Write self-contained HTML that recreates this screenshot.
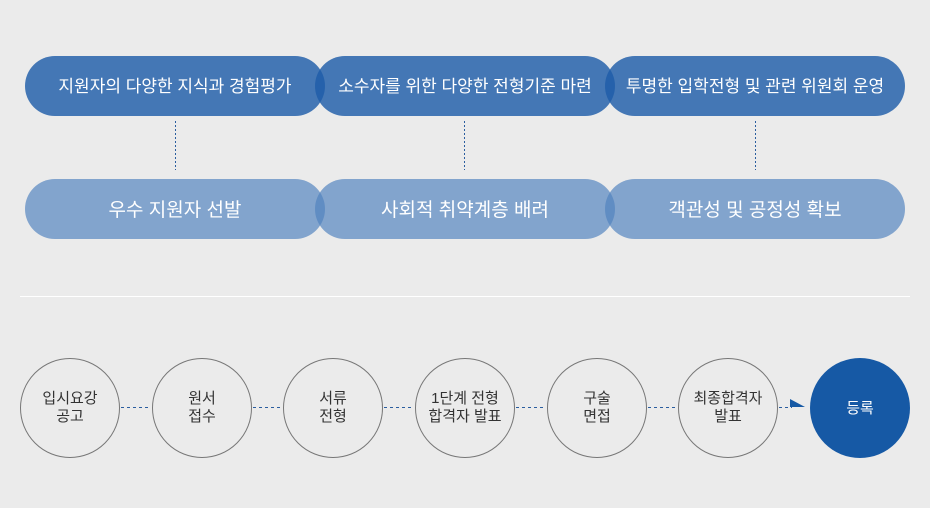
<!DOCTYPE html>
<html><head><meta charset="utf-8"><style>
body{margin:0;background:#ebebeb;}
svg{display:block;font-family:"Liberation Sans","Noto Sans CJK KR",sans-serif;}
</style></head><body>
<svg width="930" height="508" viewBox="0 0 930 508">
<rect width="930" height="508" fill="#ebebeb"/>
<g fill="rgb(31,93,168)" fill-opacity="0.82">
<rect x="25" y="56" width="300" height="60" rx="30"/>
<rect x="315" y="56" width="300" height="60" rx="30"/>
<rect x="605" y="56" width="300" height="60" rx="30"/>
</g>
<g fill="rgb(80,130,190)" fill-opacity="0.68">
<rect x="25" y="179" width="300" height="60" rx="30"/>
<rect x="315" y="179" width="300" height="60" rx="30"/>
<rect x="605" y="179" width="300" height="60" rx="30"/>
</g>
<g stroke="#2a5d9f" stroke-width="1" stroke-dasharray="2,2">
<line x1="175.5" y1="121" x2="175.5" y2="170"/>
<line x1="464.5" y1="121" x2="464.5" y2="170"/>
<line x1="755.5" y1="121" x2="755.5" y2="170"/>
</g>
<g fill="#fff" font-size="17" text-anchor="middle">
<text x="175" y="92">지원자의 다양한 지식과 경험평가</text>
<text x="465" y="92">소수자를 위한 다양한 전형기준 마련</text>
<text x="755" y="92">투명한 입학전형 및 관련 위원회 운영</text>
<text x="175" y="216" font-size="19">우수 지원자 선발</text>
<text x="465" y="216" font-size="19">사회적 취약계층 배려</text>
<text x="755" y="216" font-size="19">객관성 및 공정성 확보</text>
</g>
<line x1="20" y1="296.5" x2="910" y2="296.5" stroke="#fff" stroke-width="1"/>
<g stroke="#2a5d9f" stroke-dasharray="3,3">
<line x1="121" y1="407.5" x2="151" y2="407.5"/>
<line x1="253" y1="407.5" x2="283" y2="407.5"/>
<line x1="384" y1="407.5" x2="414" y2="407.5"/>
<line x1="516" y1="407.5" x2="546" y2="407.5"/>
<line x1="648" y1="407.5" x2="678" y2="407.5"/>
<line x1="779" y1="407.5" x2="792" y2="407.5"/>
</g>
<polygon points="790,399 805,407 790,407" fill="#1659a5"/>
<g fill="none" stroke="#777" stroke-width="1">
<circle cx="70" cy="408" r="49.5"/>
<circle cx="202" cy="408" r="49.5"/>
<circle cx="333" cy="408" r="49.5"/>
<circle cx="465" cy="408" r="49.5"/>
<circle cx="597" cy="408" r="49.5"/>
<circle cx="728" cy="408" r="49.5"/>
</g>
<circle cx="860" cy="408" r="50" fill="#1659a5"/>
<g fill="#333" font-size="15" text-anchor="middle">
<text x="70" y="403">입시요강</text><text x="70" y="421">공고</text>
<text x="202" y="403">원서</text><text x="202" y="421">접수</text>
<text x="333" y="403">서류</text><text x="333" y="421">전형</text>
<text x="465" y="403">1단계 전형</text><text x="465" y="421">합격자 발표</text>
<text x="597" y="403">구술</text><text x="597" y="421">면접</text>
<text x="728" y="403">최종합격자</text><text x="728" y="421">발표</text>
</g>
<text x="860" y="413" fill="#fff" font-size="15" text-anchor="middle">등록</text>
</svg>
</body></html>
